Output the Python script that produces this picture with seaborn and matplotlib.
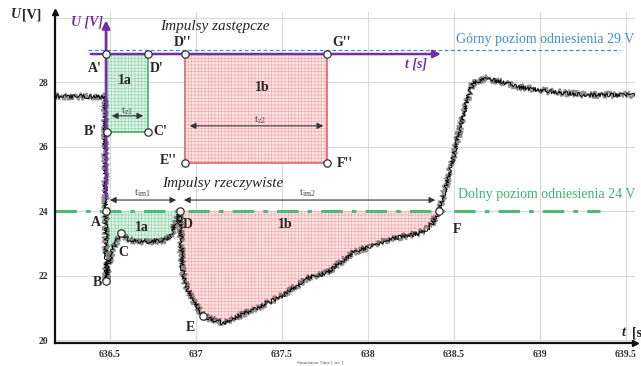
import matplotlib
matplotlib.use('Agg')
import matplotlib.pyplot as plt
import seaborn as sns
import numpy as np

sig_t = [636.18, 636.30, 636.40, 636.47, 636.477, 636.488, 636.512, 636.564, 636.58, 636.62,
         636.70, 636.80, 636.83, 636.849, 636.878, 636.90, 636.907, 636.912, 636.919, 636.936,
         636.983, 637.041, 637.157, 637.331, 637.488, 637.663, 637.762, 637.913, 638.11, 638.302,
         638.36, 638.413, 638.459, 638.506, 638.535, 638.593, 638.61, 638.69, 638.884, 639.076,
         639.273, 639.56]
sig_u = [27.55, 27.55, 27.55, 27.55, 21.8, 22.17, 22.79, 23.32, 23.2, 23.1,
         23.05, 23.08, 23.12, 23.22, 23.57, 23.9, 24.0, 23.3, 22.26, 21.77,
         21.24, 20.74, 20.53, 20.93, 21.33, 21.95, 22.08, 22.70, 23.10, 23.32,
         23.5, 24.0, 24.87, 25.89, 26.57, 27.75, 27.97, 28.12, 27.84, 27.69,
         27.6, 27.6]

# characteristic times
t_a, t_d, t_f = 636.477, 636.907, 638.413
u_ref_low, u_ref_high = 24, 29

# equivalent pulses (rectangles)
rect1a_t = [636.477, 636.721]
rect1a_u = [26.45, 28.868]
rect1b_t = [636.938, 637.762]
rect1b_u = [25.49, 28.868]

# marked points
pts_lab = ["A'", "D'", "B'", "C'", "D''", "G''", "E''", "F''", "A", "D", "B", "C", "E", "F"]
pts_t = [636.477, 636.721, 636.480, 636.721, 636.938, 637.762, 636.938, 637.762,
         636.477, 636.907, 636.477, 636.564, 637.041, 638.413]
pts_u = [28.868, 28.868, 26.45, 26.45, 28.868, 28.868, 25.49, 25.49,
         24.0, 24.0, 21.83, 23.32, 20.74, 24.0]

xticks = [636.5, 637, 637.5, 638, 638.5, 639, 639.5]
xtick_labels = ['636.5', '637', '637.5', '638', '638.5', '639', '639.5']
yticks = [20, 22, 24, 26, 28]

sns.set_style('white')
plt.rcParams['font.family'] = ['Liberation Serif', 'DejaVu Serif']
plt.rcParams['hatch.linewidth'] = 0.4

fig = plt.figure(figsize=(6.41, 3.66), dpi=100)
ax = fig.add_axes([55 / 641, 23 / 366, 580 / 641, 331 / 366])
ax.set_xlim(636.18, 639.552)
ax.set_ylim(19.907, 30.171)

# grid
for x in xticks:
    ax.axvline(x, color='#d9d9d9', lw=0.8, zorder=0)
for y in yticks + [30]:
    ax.axhline(y, color='#d9d9d9', lw=0.8, zorder=0)

green = '#3cb371'
red = '#e06666'
blue = '#3d8fd1'
purple = '#7030a0'

# real pulse areas
t_arr = np.array(sig_t)
u_arr = np.array(sig_u)
m1 = (t_arr >= t_a) & (t_arr <= t_d)
m2 = (t_arr >= t_d) & (t_arr <= t_f)
ax.fill_between(t_arr[m1], u_arr[m1], u_ref_low, facecolor='#dcf2e4', edgecolor='#8fd3a9',
                hatch='+++++', linewidth=0, zorder=1)
ax.fill_between(t_arr[m2], u_arr[m2], u_ref_low, facecolor='#fde6e6', edgecolor='#f3a1a1',
                hatch='+++++', linewidth=0, zorder=1)

# equivalent rectangles
ax.fill_between(rect1a_t, rect1a_u[0], rect1a_u[1], facecolor='#dcf2e4', edgecolor='#8fd3a9',
                hatch='+++++', linewidth=0, zorder=1)
ax.fill_between(rect1b_t, rect1b_u[0], rect1b_u[1], facecolor='#fde6e6', edgecolor='#f3a1a1',
                hatch='+++++', linewidth=0, zorder=1)
ax.plot([rect1a_t[0], rect1a_t[0], rect1a_t[1], rect1a_t[1], rect1a_t[0]],
        [rect1a_u[1], rect1a_u[0], rect1a_u[0], rect1a_u[1], rect1a_u[1]], color=green, lw=1.2, zorder=2)
ax.plot([rect1b_t[0], rect1b_t[0], rect1b_t[1], rect1b_t[1], rect1b_t[0]],
        [rect1b_u[1], rect1b_u[0], rect1b_u[0], rect1b_u[1], rect1b_u[1]], color=red, lw=1.2, zorder=2)

# reference levels
ax.plot([636.372, 639.465], [u_ref_high, u_ref_high], color=blue, lw=0.9, ls=(0, (3, 2)), zorder=2)
ax.plot([636.18, 639.35], [u_ref_low, u_ref_low], color='#4cbb78', lw=2.2, ls=(0, (7, 3, 1.5, 3)), zorder=2)

# signal with measurement noise look
sns.lineplot(x=sig_t, y=sig_u, color='#222222', lw=1.6, alpha=0.5, sort=False, estimator=None, ax=ax, zorder=3)
ax.lines[-1].set_sketch_params(scale=3.2, length=0.8, randomness=4)
sns.lineplot(x=sig_t, y=sig_u, color='black', lw=0.7, sort=False, estimator=None, ax=ax, zorder=3)
ax.lines[-1].set_sketch_params(scale=2.0, length=1.0, randomness=3)

# purple auxiliary axes
ax.annotate('', xy=(t_a, 30.0), xytext=(t_a, 24.34),
            arrowprops=dict(arrowstyle='-|>', color=purple, lw=2.0, mutation_scale=11), zorder=4)
ax.annotate('', xy=(638.44, 28.868), xytext=(636.372, 28.868),
            arrowprops=dict(arrowstyle='-|>', color=purple, lw=1.8, mutation_scale=11), zorder=4)
ax.text(636.366, 29.86, 'U [V]', color=purple, fontsize=10, fontweight='bold', style='italic',
        ha='center', va='center')
ax.text(638.28, 28.56, 't [s]', color=purple, fontsize=10, fontweight='bold', style='italic',
        ha='center', va='center')

# time arrows
arrows = [(636.494, 636.709, 26.95), (636.947, 637.756, 26.64),
          (636.483, 636.901, 24.34), (636.913, 638.407, 24.34)]
for x0, x1, y in arrows:
    ax.annotate('', xy=(x1, y), xytext=(x0, y),
                arrowprops=dict(arrowstyle='<|-|>', color='#333333', lw=0.8, mutation_scale=9), zorder=4)
tlabels = [(636.599, 27.10, r'$\mathregular{t_{z1}}$'), (637.372, 26.82, r'$\mathregular{t_{z2}}$'),
           (636.686, 24.56, r'$\mathregular{t_{im1}}$'), (637.645, 24.56, r'$\mathregular{t_{im2}}$')]
for x, y, s in tlabels:
    ax.text(x, y, s, fontsize=8, color='#444444', ha='center', va='center', zorder=5)

# points
sns.scatterplot(x=pts_t, y=pts_u, s=28, color='white', edgecolor='#333333', linewidth=0.9,
                ax=ax, zorder=6)
lab_pos = {"A'": (636.413, 28.43), "D'": (636.773, 28.43), "B'": (636.388, 26.48),
           "C'": (636.791, 26.45), "D''": (636.924, 29.21), "G''": (637.849, 29.21),
           "E''": (636.837, 25.58), "F''": (637.866, 25.46), "A": (636.419, 23.63),
           "D": (636.953, 23.57), "B": (636.424, 21.77), "C": (636.576, 22.70),
           "E": (636.965, 20.40), "F": (638.517, 23.44)}
for lab in pts_lab:
    x, y = lab_pos[lab]
    ax.text(x, y, lab, fontsize=10, fontweight='bold', ha='center', va='center', zorder=7)
for x, y, s in [(636.587, 28.06, '1a'), (637.384, 27.84, '1b'),
                (636.686, 23.50, '1a'), (637.517, 23.57, '1b')]:
    ax.text(x, y, s, fontsize=10, fontweight='bold', ha='center', va='center', zorder=7)

ax.text(637.11, 29.71, 'Impulsy zastępcze', fontsize=11, style='italic', ha='center', va='center')
ax.text(637.157, 24.84, 'Impulsy rzeczywiste', fontsize=11, style='italic', ha='center', va='center')
ax.text(639.547, 29.33, 'Górny poziom odniesienia 29 V', fontsize=10, color=blue,
        ha='right', va='center')
ax.text(639.552, 24.50, 'Dolny poziom odniesienia 24 V', fontsize=10, color=green,
        ha='right', va='center')

# main axes with arrow heads
for s in ['top', 'right']:
    ax.spines[s].set_visible(False)
for s in ['left', 'bottom']:
    ax.spines[s].set_color('#111111')
    ax.spines[s].set_linewidth(1.6)
ax.plot([0], [1], marker='^', color='#111111', ms=5, transform=ax.transAxes, clip_on=False)
ax.plot([1], [0], marker='>', color='#111111', ms=5, transform=ax.transAxes, clip_on=False)

ax.set_xticks(xticks)
ax.set_xticklabels(xtick_labels)
ax.set_yticks(yticks)
ax.tick_params(axis='both', length=0, labelsize=7, pad=5)
for lbl in ax.get_xticklabels() + ax.get_yticklabels():
    lbl.set_fontweight('bold')
    lbl.set_color('#333333')

fig.text(16 / 641, 1 - 15 / 366, 'U', fontsize=10, fontweight='bold', style='italic', ha='center', va='center')
fig.text(32 / 641, 1 - 15 / 366, '[V]', fontsize=10, fontweight='bold', ha='center', va='center')
fig.text(624 / 641, 1 - 333 / 366, 't', fontsize=10, fontweight='bold', style='italic', ha='center', va='center')
fig.text(637 / 641, 1 - 333 / 366, '[s', fontsize=10, fontweight='bold', ha='center', va='center')
fig.text(320 / 641, 1 - 362 / 366, 'Simulation Time [ sec ]', fontsize=3.5, color='#555555',
         ha='center', va='center')

fig.savefig('out.png', dpi=100)
